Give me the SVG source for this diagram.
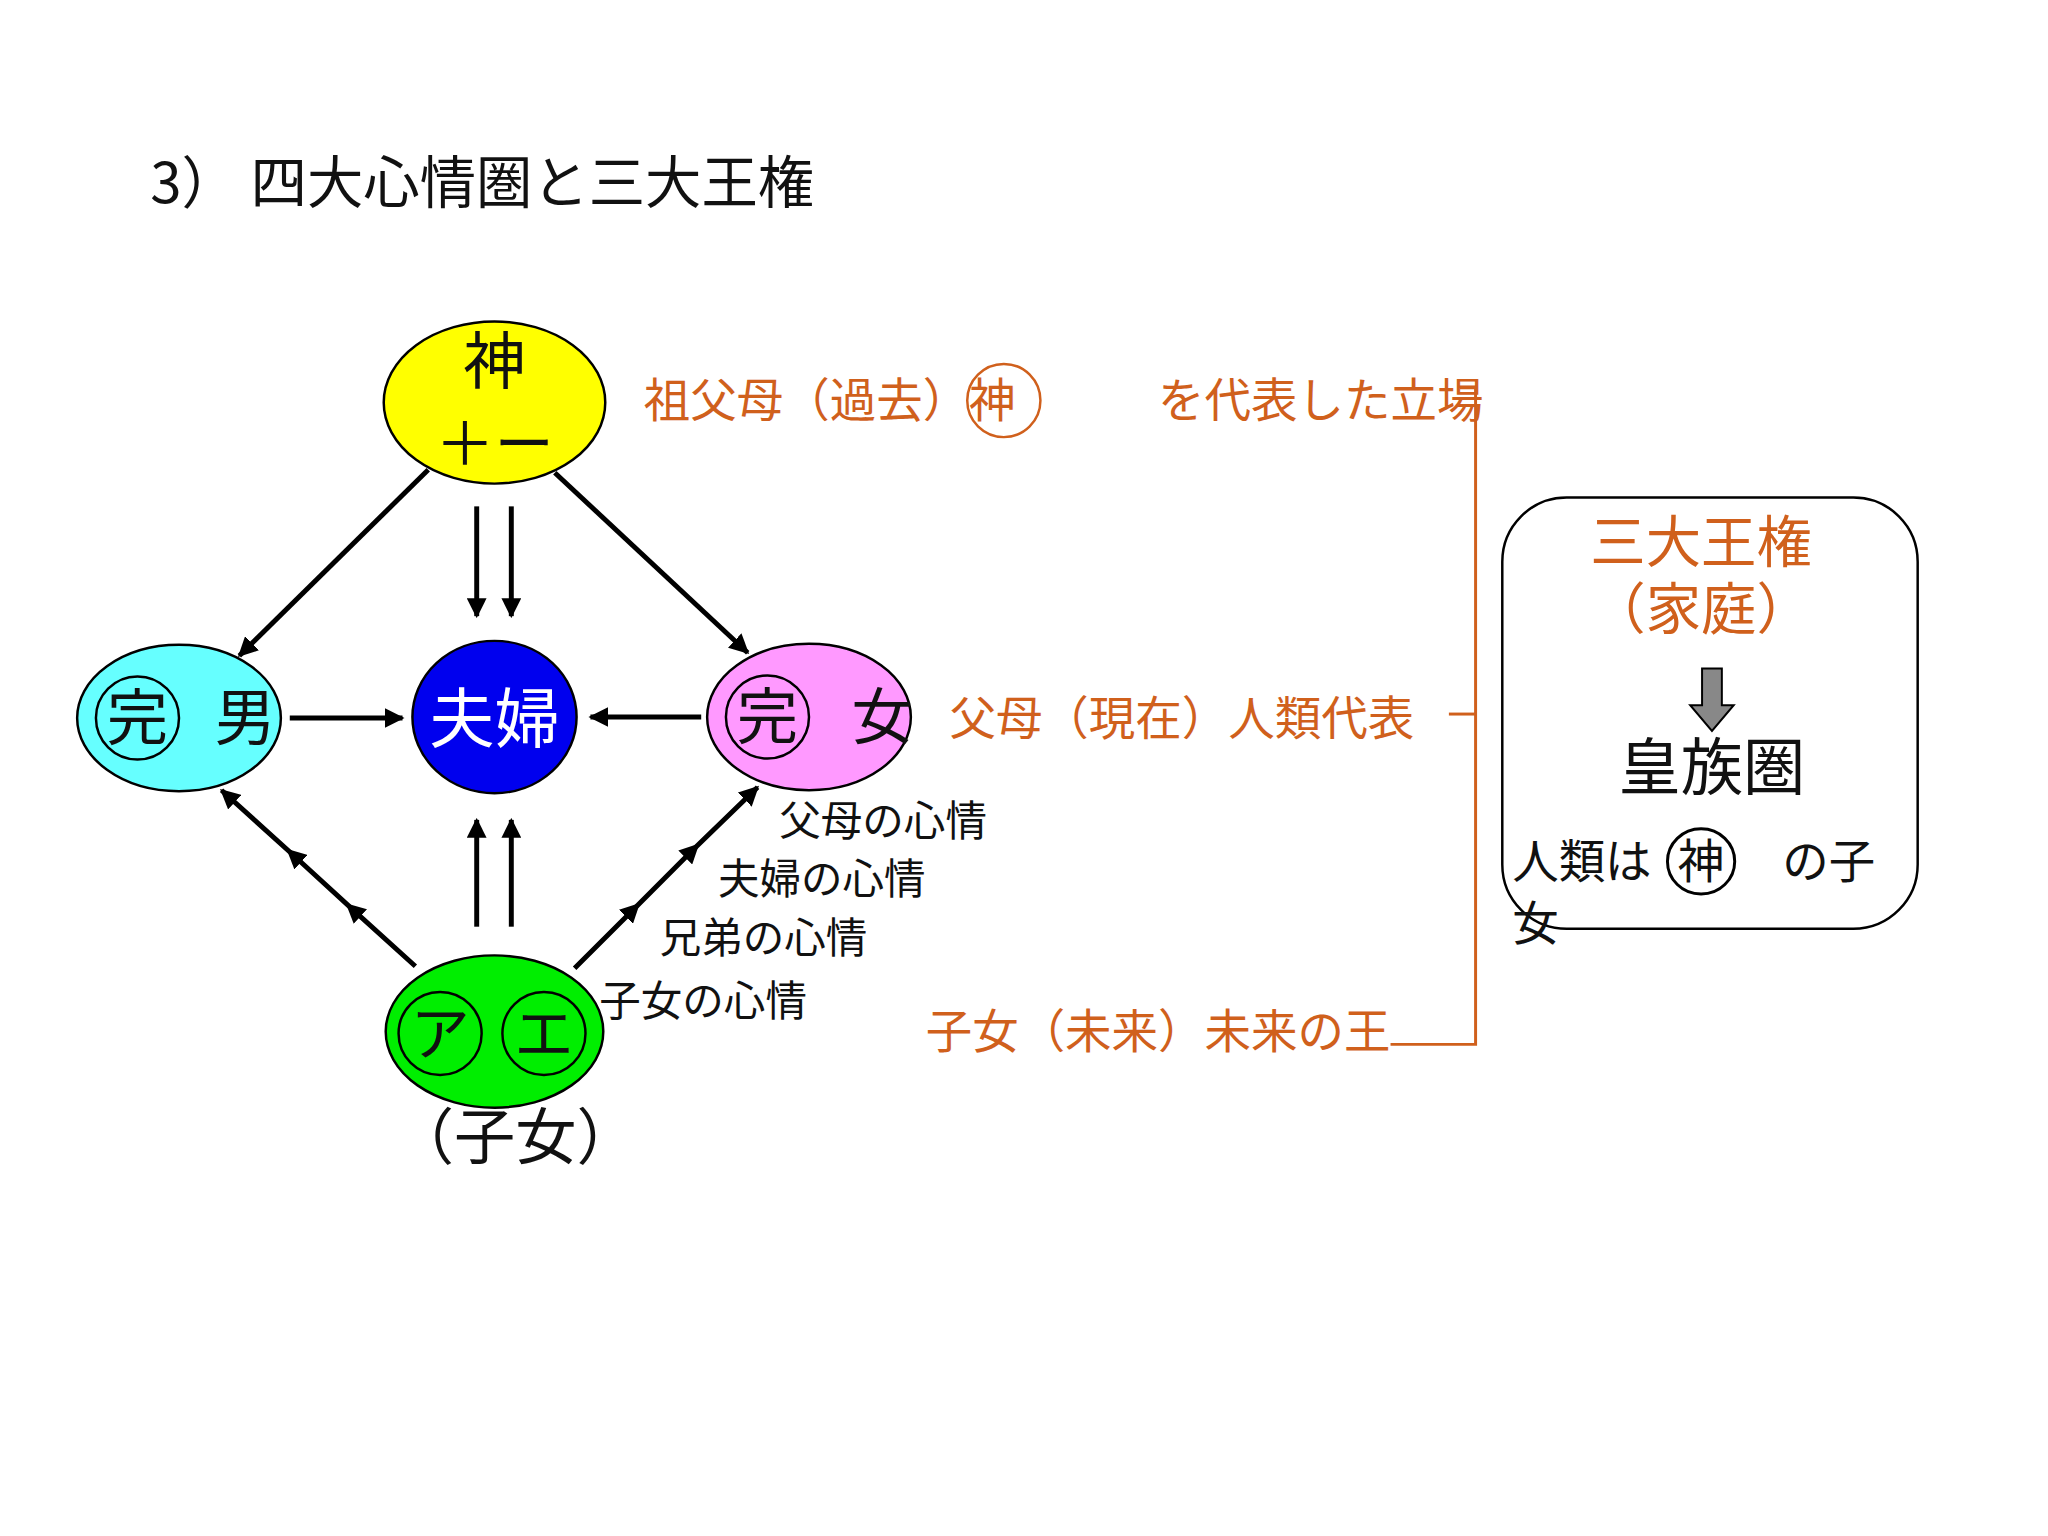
<svg xmlns="http://www.w3.org/2000/svg" width="2048" height="1536" viewBox="0 0 2048 1536">
<style>
text{font-family:"Noto Sans CJK JP","Liberation Serif",serif}
.o{fill:#d0601c}
.k{fill:#111}
.ln{stroke:#000;stroke-width:5;fill:none}
.c{fill:none;stroke:#000;stroke-width:2.5}
</style>
<defs>
<marker id="a" viewBox="0 0 10 10" refX="9" refY="5" markerWidth="4" markerHeight="4" orient="auto"><path d="M0,0L10,5L0,10z" fill="#000"/></marker>
<marker id="m" viewBox="0 0 10 10" refX="5" refY="5" markerWidth="4" markerHeight="4" orient="auto"><path d="M0,0L10,5L0,10z" fill="#000"/></marker>
</defs>
<rect width="2048" height="1536" fill="#fff"/>
<g transform="scale(0.989)">
<text x="152" y="205" font-size="57" class="k">3） 四大心情圏と三大王権</text>
<g id="connectors">
<line class="ln" x1="433" y1="475" x2="242" y2="663" marker-end="url(#a)"/>
<line class="ln" x1="561" y1="478" x2="756" y2="660" marker-end="url(#a)"/>
<line class="ln" x1="482" y1="512" x2="482" y2="623" marker-end="url(#a)"/>
<line class="ln" x1="517" y1="512" x2="517" y2="623" marker-end="url(#a)"/>
<line class="ln" x1="293" y1="726" x2="407" y2="726" marker-end="url(#a)"/>
<line class="ln" x1="709" y1="725" x2="597" y2="725" marker-end="url(#a)"/>
<polyline class="ln" points="420,977 357,920 297,865 224,799" marker-mid="url(#m)" marker-end="url(#a)"/>
<polyline class="ln" points="581,979 640,920 700,860 766,796" marker-mid="url(#m)" marker-end="url(#a)"/>
<line class="ln" x1="482" y1="937" x2="482" y2="829" marker-end="url(#a)"/>
<line class="ln" x1="517" y1="937" x2="517" y2="829" marker-end="url(#a)"/>
<polyline points="1476,392 1492,392 1492,1056 1406,1056" fill="none" stroke="#d0601c" stroke-width="3"/>
<line x1="1465" y1="722" x2="1492" y2="722" stroke="#d0601c" stroke-width="3"/>
</g>
<g id="god"><ellipse cx="500" cy="407" rx="112" ry="82" fill="#ffff00" stroke="#000" stroke-width="2.5"/>
<text x="500" y="388" font-size="63" text-anchor="middle" class="k">神</text>
<text x="500" y="470" font-size="60" text-anchor="middle" class="k">＋ー</text></g>
<g id="man"><ellipse cx="181" cy="726" rx="103" ry="74" fill="#6ff" stroke="#000" stroke-width="2.5"/>
<circle class="c" cx="139" cy="726" r="42"/><text x="139" y="748" font-size="62" text-anchor="middle" class="k">完</text>
<text x="248" y="748" font-size="62" text-anchor="middle" class="k">男</text></g>
<g id="couple"><ellipse cx="500" cy="725" rx="83" ry="77" fill="#0000ee" stroke="#000" stroke-width="2.5"/>
<text x="500" y="750" font-size="66" text-anchor="middle" fill="#fff">夫婦</text></g>
<g id="woman"><ellipse cx="818" cy="725" rx="103" ry="74" fill="#f9f" stroke="#000" stroke-width="2.5"/>
<circle class="c" cx="776" cy="725" r="42"/><text x="776" y="747" font-size="62" text-anchor="middle" class="k">完</text>
<text x="892" y="747" font-size="62" text-anchor="middle" class="k">女</text></g>
<g id="children"><ellipse cx="500" cy="1043" rx="110" ry="77" fill="#00ee00" stroke="#000" stroke-width="2.5"/>
<circle class="c" cx="445" cy="1045" r="42"/><text x="445" y="1067" font-size="60" text-anchor="middle" class="k">ア</text>
<circle class="c" cx="550" cy="1045" r="42"/><text x="550" y="1067" font-size="60" text-anchor="middle" class="k">エ</text>
<text x="521" y="1172" font-size="62" text-anchor="middle" class="k">（子女）</text></g>
<g id="labels">
<text x="788" y="845" font-size="42" class="k">父母の心情</text>
<text x="726" y="904" font-size="42" class="k">夫婦の心情</text>
<text x="667" y="964" font-size="42" class="k">兄弟の心情</text>
<text x="606" y="1027" font-size="42" class="k">子女の心情</text>
<text x="651" y="422" font-size="47" class="o">祖父母（過去）神</text>
<circle cx="1015" cy="405" r="37" fill="none" stroke="#d0601c" stroke-width="2.5"/>
<text x="1171" y="422" font-size="47" class="o">を代表した立場</text>
<text x="960" y="743" font-size="47" class="o">父母（現在）人類代表</text>
<text x="936" y="1060" font-size="47" class="o">子女（未来）未来の王</text>
</g>
<g id="box">
<rect x="1519" y="503" width="420" height="436" rx="65" fill="#fff" stroke="#000" stroke-width="2.5"/>
<text x="1720" y="568" font-size="56" text-anchor="middle" class="o">三大王権</text>
<text x="1720" y="636" font-size="56" text-anchor="middle" class="o">（家庭）</text>
<path d="M1721,676h20v37h12l-22,26l-22,-26h12z" fill="#888" stroke="#000" stroke-width="2"/>
<text x="1731" y="799" font-size="63" text-anchor="middle" class="k">皇族圏</text>
<text x="1529" y="888" font-size="47" class="k">人類は</text>
<ellipse cx="1720" cy="871" rx="34" ry="33" fill="none" stroke="#000" stroke-width="3"/>
<text x="1720" y="888" font-size="47" text-anchor="middle" class="k">神</text>
<text x="1802" y="888" font-size="47" class="k">の子</text>
<text x="1529" y="950" font-size="47" class="k">女</text>
</g>
</g>
</svg>
